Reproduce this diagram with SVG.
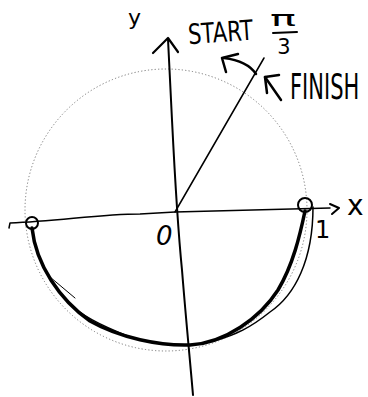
<svg xmlns="http://www.w3.org/2000/svg" width="368" height="397" viewBox="0 0 368 397">
<style>
.ink{fill:none;stroke:#000;stroke-linecap:round;stroke-linejoin:round}
.txt{font-family:"DejaVu Sans","Liberation Sans",sans-serif;fill:#000}
</style>
<rect width="368" height="397" fill="#fff"/>
<circle id="unit-circle" cx="166" cy="210" r="141" fill="none" stroke="#777" stroke-width="1" stroke-dasharray="1.2 2.2"/>
<g id="connectors">
  <path id="x-axis" class="ink" stroke-width="1.5" d="M9,228 L10,223 C60,221 100,214 140,214 L175,212 C230,211 280,209 330,208"/>
  <polyline class="ink" stroke-width="2" points="330,204 339,208 332,214"/>
  <path id="y-axis" class="ink" stroke-width="2" d="M193,395 C190,360 186,320 182,270 C178,230 175,180 172,120 C170,80 169,60 168,39"/>
  <polyline class="ink" stroke-width="2.2" points="153,53 168,38 178,52"/>
  <path id="radius" class="ink" stroke-width="1.5" d="M175,212 L264,58"/>
  <path id="start-arrow" class="ink" stroke-width="2.5" d="M256,74 C250,65 240,60 224,58"/>
  <polyline class="ink" stroke-width="2.5" points="226,72 222,58 238,54"/>
  <polyline id="finish-arrow" class="ink" stroke-width="2.5" points="279,75 265,77 267,93"/>
  <path class="ink" stroke-width="2.5" d="M265,77 L281,100"/>
  <path id="lower-arc" class="ink" stroke-width="3.5" d="M32,228 C36,265 60,300 90,321 C120,338 160,346 190,345 C225,343 260,318 278,290 C293,265 300,235 305,211"/>
  <path class="ink" stroke-width="1.5" d="M313,207 C313,260 295,295 270,312 C250,328 235,335 217,340"/>
  <path class="ink" stroke-width="1.5" d="M68,302 C80,315 100,325 130,337"/>
  <path class="ink" stroke-width="1" d="M50,277 L75,298"/>
</g>
<g id="point-left"><circle class="ink" stroke-width="2" cx="32" cy="223" r="6"/></g>
<g id="point-right"><circle class="ink" stroke-width="2" cx="305" cy="205" r="7"/></g>
<g id="labels">
  <text class="txt" x="128" y="25" font-size="22">y</text>
  <text class="txt" x="188" y="42" font-size="28" textLength="65" lengthAdjust="spacingAndGlyphs" transform="rotate(-4 220 32)">START</text>
  <text class="txt" x="270" y="26" font-size="22" textLength="26" lengthAdjust="spacingAndGlyphs">π</text>
  <path class="ink" stroke-width="2" d="M273,33 L297,32"/>
  <text class="txt" x="284" y="54" font-size="21" text-anchor="middle">3</text>
  <text class="txt" x="0" y="0" font-size="21" transform="translate(290 99) scale(1 1.65)">FINISH</text>
  <text class="txt" x="156" y="245" font-size="26" font-style="italic">0</text>
  <text class="txt" x="315" y="238" font-size="24">1</text>
  <text class="txt" x="347" y="215" font-size="28">x</text>
</g>
</svg>
